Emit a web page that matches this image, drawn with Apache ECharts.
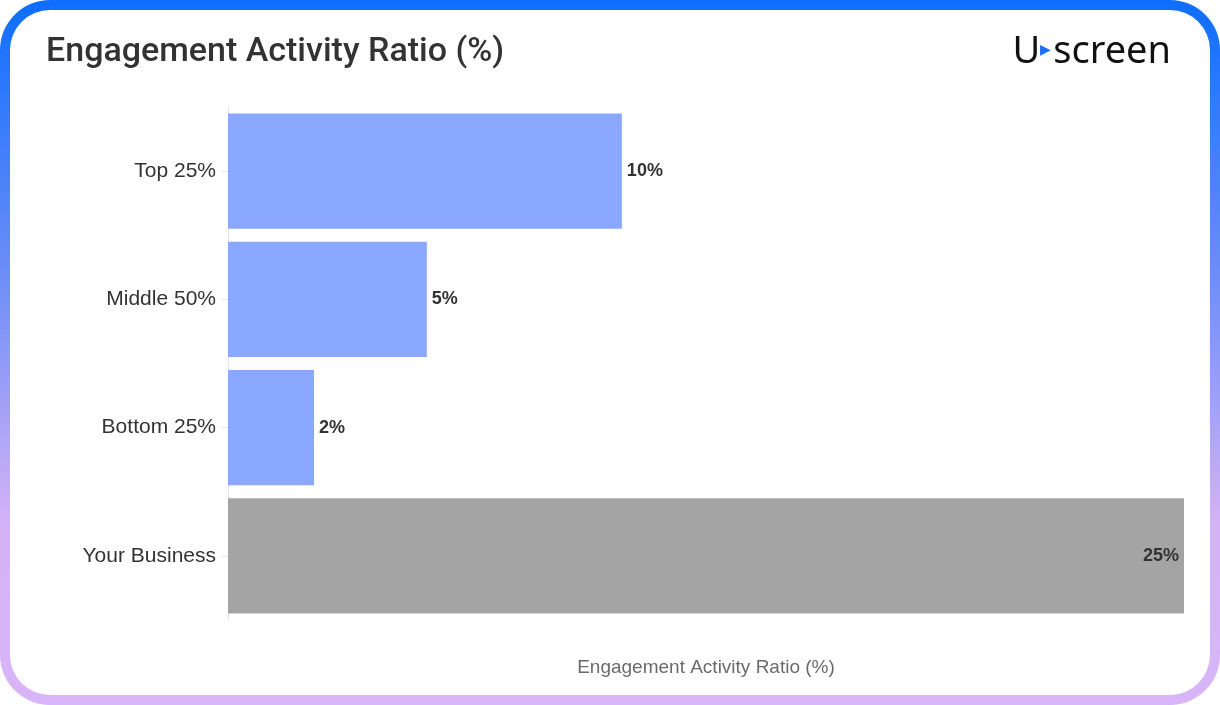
<!DOCTYPE html>
<html><head><meta charset="utf-8">
<script src="https://cdn.jsdelivr.net/npm/echarts@6/dist/echarts.min.js"></script>
<style>
html,body{margin:0;padding:0;background:#fff;}
#outer{width:1220px;height:705px;border-radius:50px;background:linear-gradient(180deg,#0d6efd 0%,#6f8ff7 40%,#d6b3f7 75%,#d8b4f8 100%);padding:10px;box-sizing:border-box;}
#chart{width:1200px;height:685px;background:#fff;border-radius:40px;}
</style></head>
<body><div id="outer"><div id="chart"></div></div>
<script>
var categories = ['Top 25%', 'Middle 50%', 'Bottom 25%', 'Your Business'];
var values = [10.3, 5.2, 2.25, 25];
var labels = ['10%', '5%', '2%', '25%'];
var barColors = ['#8aa8ff', '#8aa8ff', '#8aa8ff', '#a4a4a4'];

var chart = echarts.init(document.getElementById('chart'));
chart.setOption({
  animation: false,
  title: [{
    text: 'Engagement Activity Ratio (%)', left: 31, top: 20,
    textStyle: {fontSize: 34, fontWeight: 500, color: '#333', fontFamily: 'Roboto'}
  }, {
    text: 'U{t|▶}screen', right: 34, top: 18,
    textStyle: {fontSize: 38, fontWeight: 'normal', color: '#111', fontFamily: 'Noto Sans',
      rich: {t: {fontSize: 14, color: '#1a6dff', padding: [0, 2, 4, 0]}}}
  }],
  grid: {left: 218, right: 26, top: 97, bottom: 75},
  xAxis: {
    type: 'value', min: 0, max: 25,
    name: 'Engagement Activity Ratio (%)', nameLocation: 'middle', nameGap: 38,
    nameTextStyle: {fontSize: 19, color: '#6b6b6b', fontFamily: 'Liberation Sans'},
    axisLabel: {show: false}, axisTick: {show: false}, axisLine: {show: false}, splitLine: {show: false}
  },
  yAxis: {
    type: 'category', data: categories, inverse: true,
    axisLine: {show: true, lineStyle: {color: '#e4e4e4'}},
    axisTick: {show: true, alignWithLabel: true, length: 6, lineStyle: {color: '#e4e4e4'}},
    axisLabel: {fontSize: 21, color: '#333', margin: 12, fontFamily: 'Liberation Sans'}
  },
  series: [{
    type: 'bar', barCategoryGap: '10%',
    data: values.map(function (v, i) {
      return {value: v, itemStyle: {color: barColors[i]},
        label: {position: i === 3 ? 'insideRight' : 'right'}};
    }),
    label: {show: true, distance: 5, fontSize: 18, fontWeight: 'bold', color: '#333', fontFamily: 'Liberation Sans',
      formatter: function (p) { return labels[p.dataIndex]; }}
  }]
});
</script></body></html>
